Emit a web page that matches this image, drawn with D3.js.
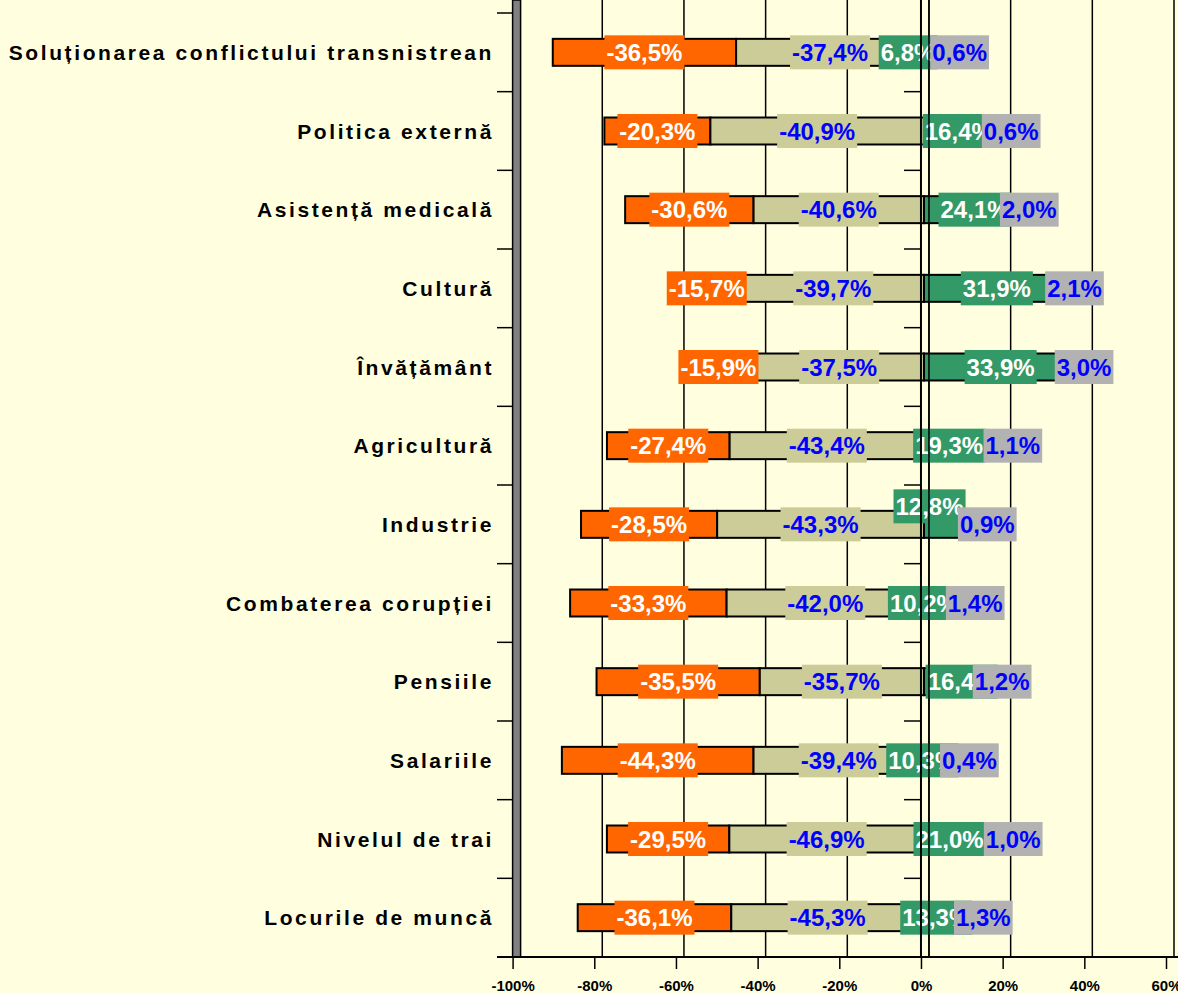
<!DOCTYPE html>
<html>
<head>
<meta charset="utf-8">
<script src="https://cdn.jsdelivr.net/npm/d3@7"></script>
<style>
  body { margin: 0; background: #FFFFE0; }
  svg { display: block; font-family: "Liberation Sans", Arial, sans-serif; }
</style>
</head>
<body>
<div class="chart"></div>
<script>
// categories top to bottom
const categories = [
  "Soluționarea conflictului transnistrean",
  "Politica externă",
  "Asistență medicală",
  "Cultură",
  "Învățământ",
  "Agricultură",
  "Industrie",
  "Combaterea corupției",
  "Pensiile",
  "Salariile",
  "Nivelul de trai",
  "Locurile de muncă"
];
// answer shares, %
const veryBad    = [36.5, 20.3, 30.6, 15.7, 15.9, 27.4, 28.5, 33.3, 35.5, 44.3, 29.5, 36.1];
const ratherBad  = [37.4, 40.9, 40.6, 39.7, 37.5, 43.4, 43.3, 42.0, 35.7, 39.4, 46.9, 45.3];
const ratherGood = [6.8, 16.4, 24.1, 31.9, 33.9, 19.3, 12.8, 10.2, 16.4, 10.3, 21.0, 13.3];
const veryGood   = [0.6, 0.6, 2.0, 2.1, 3.0, 1.1, 0.9, 1.4, 1.2, 0.4, 1.0, 1.3];
const tickValues = [-100, -80, -60, -40, -20, 0, 20, 40, 60];

const W = 1178, H = 993;
const plotTop = 13, plotBottom = 957;

// hand placed labels in the original (green series)
const greenNudge = {
  "Soluționarea conflictului transnistrean": [-33, 0],
  "Politica externă": [-8, 0],
  "Agricultură": [-18, 0],
  "Industrie": [-25, -18],
  "Combaterea corupției": [-24, 0],
  "Salariile": [-24, 0],
  "Nivelul de trai": [-18, 0],
  "Locurile de muncă": [-16, 0]
};

// plain hyphen and decimal comma, like the original
const fmt = v => (v < 0 ? "-" : "") + Math.abs(v).toFixed(1).replace(".", ",") + "%";

const svg = d3.select(".chart").append("svg")
  .attr("width", W)
  .attr("height", H);

svg.append("rect").attr("width", W).attr("height", H).attr("fill", "#FFFFE0");

const x = d3.scaleLinear().domain([-100, 60]).range([512.6, 1166]);
// bars sit a few px right of the tick axis, gridlines 8px right
const xBar = d3.scaleLinear().domain([-100, 60]).range([515.6, 1169]);
const gridOff = 8;

const y = d3.scaleBand().domain(categories).range([plotTop, plotBottom])
  .paddingInner(0.657).paddingOuter(0.3285);

// build rows: shares normalised to the four answers
const rows = categories.map((c, i) => {
  const tot = veryBad[i] + ratherBad[i] + ratherGood[i] + veryGood[i];
  const vb = veryBad[i] / tot * 100, rb = ratherBad[i] / tot * 100;
  const rg = ratherGood[i] / tot * 100, vg = veryGood[i] / tot * 100;
  return {cat: c, segs: [
    {x0: -(rb + vb), x1: -rb, val: -veryBad[i], fill: "#FF6600", txt: "#FFFFFF"},
    {x0: -rb, x1: 0, val: -ratherBad[i], fill: "#CCCC99", txt: "#0000FF"},
    {x0: 0, x1: rg, val: ratherGood[i], fill: "#339966", txt: "#FFFFFF", green: true},
    {x0: rg, x1: rg + vg, val: veryGood[i], fill: "#B2B2B2", txt: "#0000FF"}
  ]};
});

//gridlines
svg.append("g").selectAll("line")
  .data(tickValues.slice(1))
  .enter().append("line")
  .attr("x1", d => x(d) + gridOff).attr("x2", d => x(d) + gridOff)
  .attr("y1", 0).attr("y2", plotBottom)
  .attr("stroke", "#000").attr("stroke-width", 1.5);

// left gray wall
svg.append("rect")
  .attr("x", x(-100)).attr("y", 0)
  .attr("width", gridOff).attr("height", plotBottom)
  .attr("fill", "#808080").attr("stroke", "#000").attr("stroke-width", 1.5);

// category ticks on left and on zero line
const bounds = d3.range(categories.length + 1).map(k => plotTop + k * y.step());
svg.append("g").selectAll("line").data(bounds).enter().append("line")
  .attr("x1", 497).attr("x2", x(-100))
  .attr("y1", d => d).attr("y2", d => d)
  .attr("stroke", "#000").attr("stroke-width", 1.5);
svg.append("g").selectAll("line").data(bounds.slice(1, -1)).enter().append("line")
  .attr("x1", x(0) - 17).attr("x2", x(0))
  .attr("y1", d => d).attr("y2", d => d)
  .attr("stroke", "#000").attr("stroke-width", 1.5);

// bars
const rowG = svg.append("g").selectAll("g").data(rows).enter().append("g");
rowG.selectAll("rect")
  .data(d => d.segs.map(s => Object.assign({cat: d.cat}, s)))
  .enter().append("rect")
  .attr("x", d => xBar(d.x0))
  .attr("y", d => y(d.cat))
  .attr("width", d => xBar(d.x1) - xBar(d.x0))
  .attr("height", y.bandwidth())
  .attr("fill", d => d.fill)
  .attr("stroke", "#000").attr("stroke-width", 2);

// data labels, drawn series by series so later boxes cover earlier ones
for (let s = 0; s < 4; s++) {
  rows.forEach(r => {
    const d = r.segs[s];
    let cx = (xBar(d.x0) + xBar(d.x1)) / 2;
    let cy = y(r.cat) + y.bandwidth() / 2;
    if (d.green && greenNudge[r.cat]) {
      cx += greenNudge[r.cat][0];
      cy += greenNudge[r.cat][1];
    }
    const g = svg.append("g");
    const box = g.append("rect").attr("fill", d.fill);
    const t = g.append("text")
      .attr("x", cx).attr("y", cy + 8.5)
      .attr("text-anchor", "middle")
      .attr("font-size", 24).attr("font-weight", "bold")
      .attr("fill", d.txt)
      .text(fmt(d.val));
    const tw = t.node().getComputedTextLength();
    box.attr("x", cx - tw / 2 - 2).attr("y", cy - 17)
      .attr("width", tw + 4).attr("height", 34);
  });
}

// zero line and its neighbour drawn over everything
svg.append("line")
  .attr("x1", x(0)).attr("x2", x(0)).attr("y1", 0).attr("y2", plotBottom)
  .attr("stroke", "#000").attr("stroke-width", 2);
svg.append("line")
  .attr("x1", x(0) + gridOff).attr("x2", x(0) + gridOff).attr("y1", 0).attr("y2", plotBottom)
  .attr("stroke", "#000").attr("stroke-width", 1.5);

// category labels
svg.append("g").selectAll("text").data(categories).enter().append("text")
  .attr("x", 494)
  .attr("y", d => y(d) + y.bandwidth() / 2 + 7.5)
  .attr("text-anchor", "end")
  .attr("font-size", 21).attr("font-weight", "bold")
  .attr("letter-spacing", 2.6)
  .attr("fill", "#000")
  .text(d => d);

// bottom axis
const axis = svg.append("g")
  .attr("transform", `translate(0,${plotBottom})`)
  .call(d3.axisBottom(x).tickValues(tickValues).tickFormat(d => d + "%").tickSize(12));
axis.select(".domain").remove();
axis.selectAll(".tick line").attr("stroke", "#000").attr("stroke-width", 1.5);
axis.selectAll(".tick text")
  .attr("y", 34).attr("dy", null)
  .attr("fill", "#000")
  .attr("font-size", 15).attr("font-weight", "bold")
  .attr("font-family", "Liberation Sans, Arial, sans-serif");
svg.append("line")
  .attr("x1", 497).attr("x2", W).attr("y1", plotBottom).attr("y2", plotBottom)
  .attr("stroke", "#000").attr("stroke-width", 2);
</script>
</body>
</html>
